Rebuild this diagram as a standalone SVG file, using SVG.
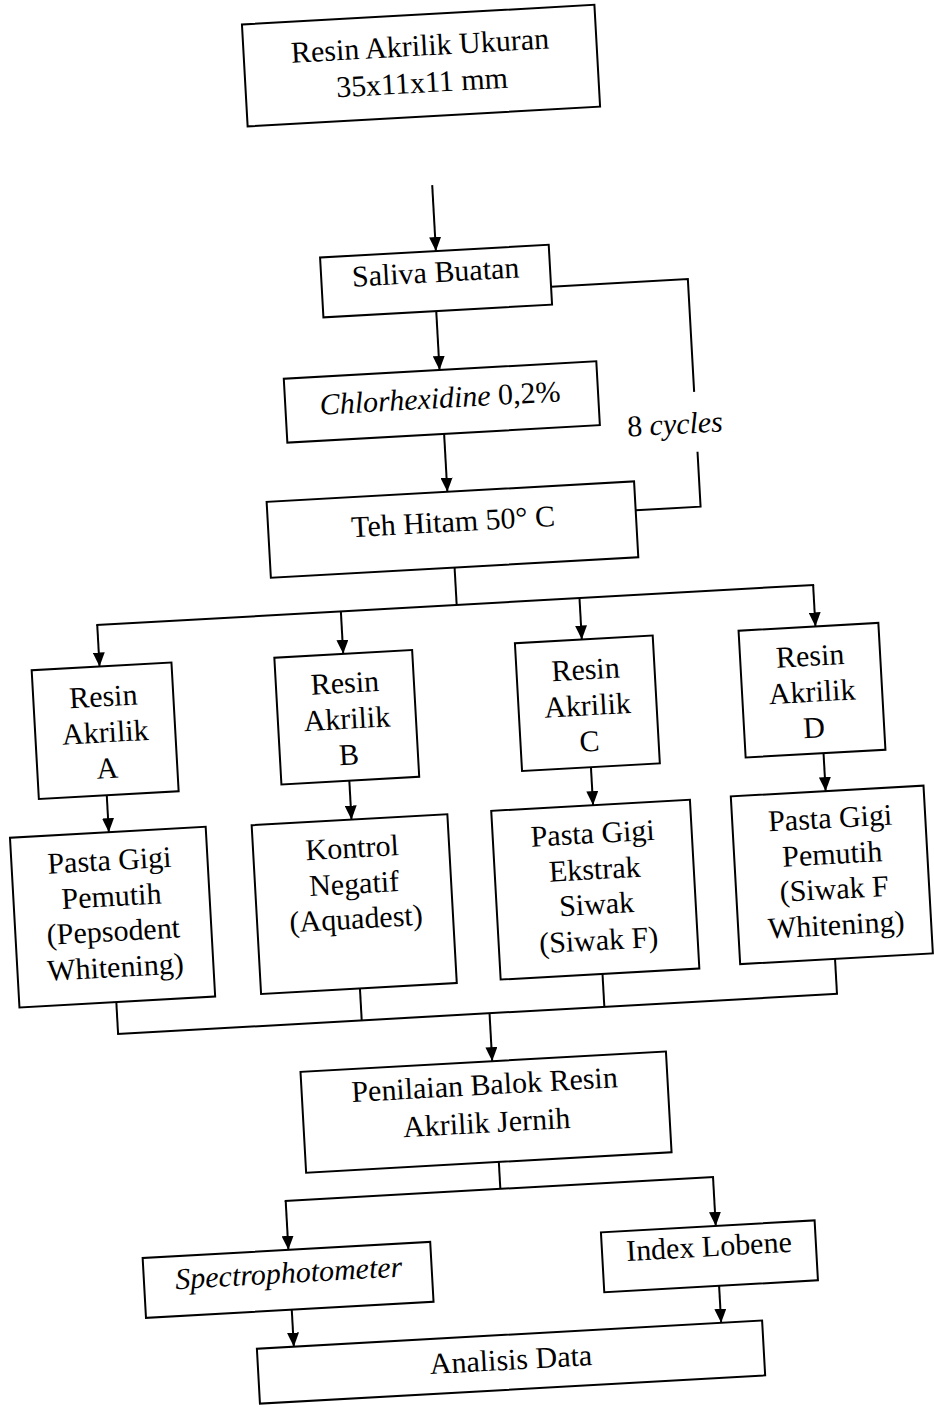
<svg xmlns="http://www.w3.org/2000/svg" width="934" height="1407" viewBox="0 0 934 1407">
<style>
.box{fill:#fff;stroke:#000;stroke-width:2}
.ln{fill:none;stroke:#000;stroke-width:2}
.ar{fill:none;stroke:#000;stroke-width:2;marker-end:url(#ah)}
text{font-family:"Liberation Serif","Times New Roman",serif;font-size:30px;fill:#000;text-anchor:middle}
.it{font-style:italic}
</style>
<defs>
<marker id="ah" viewBox="0 0 14 12" refX="14" refY="6" markerWidth="14" markerHeight="12" markerUnits="userSpaceOnUse" orient="auto">
<path d="M0,0 L14,6 L0,12 z" fill="#000"/>
</marker>
</defs>
<rect width="934" height="1407" fill="#fff"/>
<g transform="rotate(-3.2 467 700)">
<g id="connectors">
<line class="ar" x1="461" y1="184" x2="461" y2="250"/>
<line class="ar" x1="458" y1="310" x2="458" y2="369"/>
<line class="ar" x1="459" y1="433" x2="459" y2="491"/>
<polyline class="ln" points="574,292 711,292 711,405"/>
<polyline class="ln" points="711,465 711,520 646,520"/>
<line class="ln" x1="462" y1="567" x2="462" y2="604.5"/>
<line class="ln" x1="101" y1="604.5" x2="820" y2="604.5"/>
<line class="ar" x1="102" y1="604.5" x2="102" y2="646"/>
<line class="ar" x1="346" y1="604.5" x2="346" y2="647"/>
<line class="ar" x1="585" y1="604.5" x2="585" y2="646"/>
<line class="ar" x1="819" y1="604.5" x2="819" y2="646"/>
<line class="ar" x1="102" y1="775" x2="102" y2="812"/>
<line class="ar" x1="345" y1="774" x2="345" y2="813"/>
<line class="ar" x1="587" y1="774" x2="587" y2="812"/>
<line class="ar" x1="820" y1="773" x2="820" y2="811"/>
<line class="ln" x1="100" y1="982" x2="100" y2="1014"/>
<line class="ln" x1="344" y1="982" x2="344" y2="1014"/>
<line class="ln" x1="587" y1="981" x2="587" y2="1014"/>
<line class="ln" x1="820" y1="979" x2="820" y2="1014"/>
<line class="ln" x1="99" y1="1014" x2="821" y2="1014"/>
<line class="ar" x1="472" y1="1014" x2="472" y2="1062"/>
<line class="ln" x1="473" y1="1163" x2="473" y2="1190"/>
<line class="ln" x1="257" y1="1190" x2="687" y2="1190"/>
<line class="ar" x1="258" y1="1190" x2="258" y2="1239"/>
<line class="ar" x1="686" y1="1190" x2="686" y2="1239"/>
<line class="ar" x1="258" y1="1299" x2="258" y2="1336"/>
<line class="ar" x1="686" y1="1299" x2="686" y2="1336"/>
<text x="690" y="446">8 <tspan class="it">cycles</tspan></text>
</g>
<g id="n_top">
<rect class="box" x="280" y="13" width="353" height="102"/>
<text x="456.5" y="54">Resin Akrilik Ukuran</text>
<text x="456.5" y="91">35x11x11 mm</text>
</g>
<g id="n_saliva">
<rect class="box" x="345" y="250" width="229" height="60"/>
<text x="459.5" y="281">Saliva Buatan</text>
</g>
<g id="n_chlor">
<rect class="box" x="302" y="369" width="313" height="64"/>
<text x="457" y="407"><tspan class="it">Chlorhexidine</tspan> 0,2%</text>
</g>
<g id="n_teh">
<rect class="box" x="278" y="491" width="368" height="76"/>
<text x="463" y="531">Teh Hitam 50° C</text>
</g>
<g id="n_resinA">
<rect class="box" x="34" y="646" width="140" height="129"/>
<text x="104" y="686">Resin</text>
<text x="104" y="722">Akrilik</text>
<text x="104" y="758">A</text>
</g>
<g id="n_resinB">
<rect class="box" x="277" y="647" width="138" height="127"/>
<text x="346" y="686">Resin</text>
<text x="346" y="722">Akrilik</text>
<text x="346" y="758">B</text>
</g>
<g id="n_resinC">
<rect class="box" x="518" y="646" width="138" height="128"/>
<text x="587" y="686">Resin</text>
<text x="587" y="722">Akrilik</text>
<text x="587" y="758">C</text>
</g>
<g id="n_resinD">
<rect class="box" x="742" y="646" width="140" height="127"/>
<text x="812" y="685">Resin</text>
<text x="812" y="721">Akrilik</text>
<text x="812" y="757">D</text>
</g>
<g id="n_pastaA">
<rect class="box" x="3" y="812" width="196" height="170"/>
<text x="101" y="850">Pasta Gigi</text>
<text x="101" y="886">Pemutih</text>
<text x="101" y="921">(Pepsodent</text>
<text x="101" y="957">Whitening)</text>
</g>
<g id="n_kontrol">
<rect class="box" x="245" y="813" width="196" height="169"/>
<text x="344" y="851">Kontrol</text>
<text x="344" y="887">Negatif</text>
<text x="344" y="922">(Aquadest)</text>
</g>
<g id="n_pastaC">
<rect class="box" x="485" y="812" width="199" height="169"/>
<text x="585" y="850">Pasta Gigi</text>
<text x="585" y="886">Ekstrak</text>
<text x="585" y="921">Siwak</text>
<text x="585" y="957">(Siwak F)</text>
</g>
<g id="n_pastaD">
<rect class="box" x="725" y="811" width="193" height="168"/>
<text x="823" y="848">Pasta Gigi</text>
<text x="823" y="884">Pemutih</text>
<text x="823" y="919">(Siwak F</text>
<text x="823" y="955">Whitening)</text>
</g>
<g id="n_penilaian">
<rect class="box" x="280" y="1062" width="366" height="101"/>
<text x="463" y="1095">Penilaian Balok Resin</text>
<text x="463" y="1133">Akrilik Jernih</text>
</g>
<g id="n_spectro">
<rect class="box" x="112" y="1239" width="288" height="60"/>
<text class="it" x="257" y="1272">Spectrophotometer</text>
</g>
<g id="n_index">
<rect class="box" x="571" y="1239" width="214" height="60"/>
<text x="678" y="1269">Index Lobene</text>
</g>
<g id="n_analisis">
<rect class="box" x="221" y="1336" width="506" height="55"/>
<text x="474" y="1371">Analisis Data</text>
</g>
</g>
</svg>
